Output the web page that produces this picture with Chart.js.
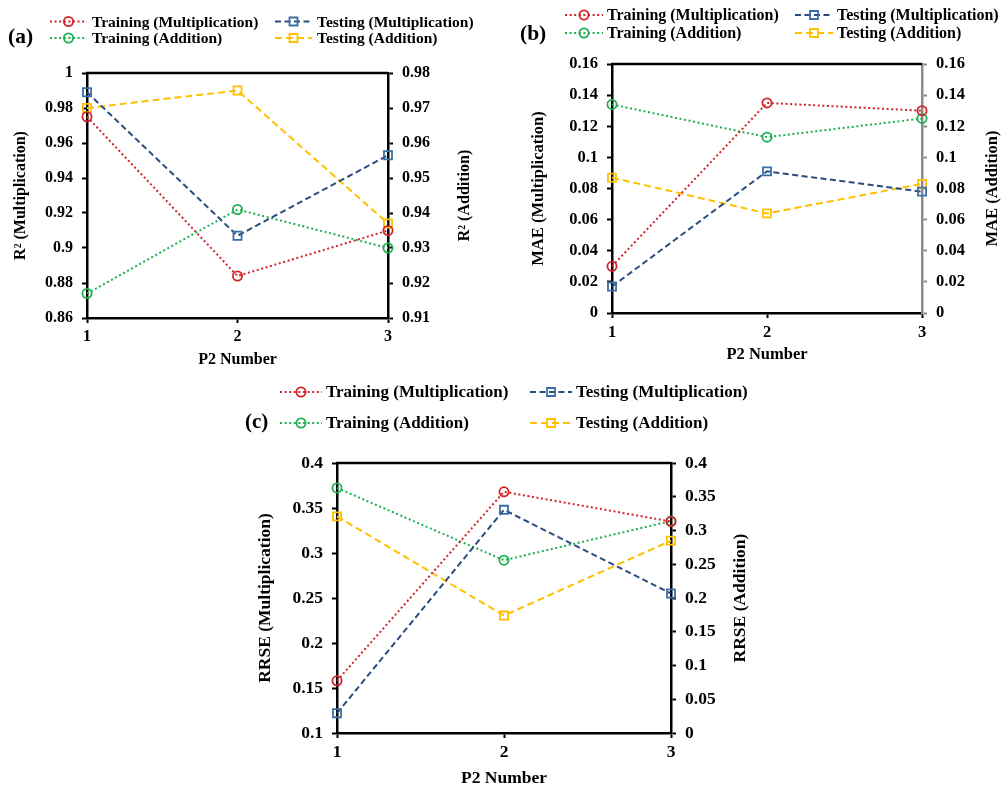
<!DOCTYPE html>
<html>
<head>
<meta charset="utf-8">
<script src="https://cdn.jsdelivr.net/npm/chart.js@4"></script>
<style>
  html, body { margin: 0; padding: 0; background: #fff; }
  body { width: 1003px; height: 789px; position: relative; overflow: hidden; }
  canvas { position: absolute; }
  #chartA { left: 0;     top: 0; }
  #chartB { left: 500px; top: 0; }
  #chartC { left: 0;     top: 375px; }
</style>
</head>
<body>
<canvas id="chartA" width="500" height="375"></canvas>
<canvas id="chartB" width="503" height="375"></canvas>
<canvas id="chartC" width="1003" height="414"></canvas>
<script>
const P2_NUMBERS = ["1", "2", "3"];

// (a) R²
const r2TrainMul = [0.975, 0.884, 0.910];
const r2TestMul  = [0.989, 0.907, 0.953];
const r2TrainAdd = [0.917, 0.941, 0.930];
const r2TestAdd  = [0.970, 0.975, 0.937];
const r2TicksMul = [0.86, 0.88, 0.90, 0.92, 0.94, 0.96, 0.98, 1];
const r2TicksAdd = [0.91, 0.92, 0.93, 0.94, 0.95, 0.96, 0.97, 0.98];

// (b) MAE
const maeTrainMul = [0.030, 0.135, 0.130];
const maeTestMul  = [0.017, 0.091, 0.078];
const maeTrainAdd = [0.134, 0.113, 0.125];
const maeTestAdd  = [0.087, 0.064, 0.083];
const maeTicks    = [0, 0.02, 0.04, 0.06, 0.08, 0.1, 0.12, 0.14, 0.16];

// (c) RRSE
const rrseTrainMul = [0.158, 0.368, 0.335];
const rrseTestMul  = [0.122, 0.348, 0.255];
const rrseTrainAdd = [0.363, 0.256, 0.314];
const rrseTestAdd  = [0.321, 0.174, 0.285];
const rrseTicksMul = [0.1, 0.15, 0.2, 0.25, 0.3, 0.35, 0.4];
const rrseTicksAdd = [0, 0.05, 0.1, 0.15, 0.2, 0.25, 0.3, 0.35, 0.4];

const FONT = "'Liberation Serif', 'Times New Roman', serif";

const SERIES = [
  { label: "Training (Multiplication)", line: "#d2232a", mark: "#d2232a", dash: [2, 2.6], style: "circle", axis: "y"  },
  { label: "Testing (Multiplication)",  line: "#2b4c7e", mark: "#3a6ea8", dash: [6, 3.5], style: "rect",   axis: "y"  },
  { label: "Training (Addition)",       line: "#1db050", mark: "#1db050", dash: [2, 2.6], style: "circle", axis: "y2" },
  { label: "Testing (Addition)",        line: "#ffc000", mark: "#ffc000", dash: [7, 4],   style: "rect",   axis: "y2" },
];

function buildDatasets(values) {
  return SERIES.map((s, i) => ({
    label: s.label,
    data: values[i],
    yAxisID: s.axis,
    borderColor: s.line,
    borderWidth: 2,
    borderDash: s.dash,
    tension: 0,
    fill: false,
    clip: false,
    pointStyle: s.style,
    pointRadius: s.style === "rect" ? 5.7 : 4.6,
    pointBorderWidth: 1.8,
    pointBorderColor: s.mark,
    pointBackgroundColor: "rgba(0,0,0,0)",
  }));
}

const fmt = v => String(+(+v).toFixed(3));

function valueAxis(o) {
  return {
    type: "linear",
    position: o.position,
    min: o.ticks[0],
    max: o.ticks[o.ticks.length - 1],
    afterBuildTicks: scale => { scale.ticks = o.ticks.map(v => ({ value: v })); },
    afterFit: scale => { scale.width = o.width; },
    border: { display: true, color: o.color || "#000", width: 2.5 },
    grid: { drawOnChartArea: false, drawTicks: true, tickLength: 5, tickWidth: 2,
            color: o.color || "#000", tickColor: o.color || "#000" },
    ticks: { color: "#000", padding: 9, callback: fmt,
             font: { family: FONT, size: o.size, weight: "bold" } },
    title: o.title
      ? { display: true, text: o.title, color: "#000", padding: { top: o.titlePad },
          font: { family: FONT, size: o.size, weight: "bold" } }
      : { display: false },
  };
}

function categoryAxis(o) {
  return {
    type: "category",
    labels: P2_NUMBERS,
    afterFit: scale => { scale.height = o.height; },
    border: { display: true, color: "#000", width: 2.5 },
    grid: { drawOnChartArea: false, drawTicks: true, tickLength: 5, tickWidth: 2,
            color: "#000", tickColor: "#000" },
    ticks: { color: "#000", padding: o.tickPad, maxRotation: 0,
             font: { family: FONT, size: o.size, weight: "bold" } },
    title: { display: true, text: "P2 Number", color: "#000", padding: { bottom: o.titlePad },
             font: { family: FONT, size: o.size, weight: "bold" } },
  };
}

// frame top line, right-axis title (reads bottom-to-top), 2x2 legend and panel letter
const panelDecor = {
  id: "panelDecor",
  beforeDatasetsDraw(chart) {
    const { ctx, chartArea: a } = chart;
    ctx.save();
    ctx.strokeStyle = "#000";
    ctx.lineWidth = 2.5;
    ctx.beginPath();
    ctx.moveTo(a.left - 1, a.top);
    ctx.lineTo(a.right, a.top);
    ctx.stroke();
    ctx.restore();
  },
  afterDraw(chart, args, o) {
    const { ctx, chartArea: a } = chart;
    ctx.save();
    ctx.fillStyle = "#000";

    // right title
    ctx.font = `bold ${o.titleSize}px ${FONT}`;
    ctx.translate(o.rightTitleX, (a.top + a.bottom) / 2);
    ctx.rotate(-Math.PI / 2);
    ctx.textAlign = "center";
    ctx.textBaseline = "middle";
    ctx.fillText(o.rightTitle, 0, 0);
    ctx.setTransform(1, 0, 0, 1, 0, 0);

    // panel letter
    ctx.font = `bold ${o.letterSize}px ${FONT}`;
    ctx.textAlign = "left";
    ctx.fillText(o.letter, o.letterX, o.letterY);

    // legend
    chart.data.datasets.forEach((ds, i) => {
      const x0 = o.cols[i % 2];
      const y = o.rows[Math.floor(i / 2)];
      const s = SERIES[i];
      ctx.strokeStyle = ds.borderColor;
      ctx.lineWidth = 2;
      ctx.setLineDash(ds.borderDash);
      ctx.beginPath();
      ctx.moveTo(x0, y);
      ctx.lineTo(x0 + o.markW, y);
      ctx.stroke();
      ctx.setLineDash([]);
      ctx.strokeStyle = s.mark;
      ctx.lineWidth = 1.8;
      const cx = x0 + o.markW / 2;
      ctx.beginPath();
      if (s.style === "circle") ctx.arc(cx, y, 4.6, 0, Math.PI * 2);
      else ctx.rect(cx - 4, y - 4, 8, 8);
      ctx.stroke();
      ctx.fillStyle = "#000";
      ctx.font = `bold ${o.legendSize}px ${FONT}`;
      ctx.fillText(ds.label, x0 + o.markW + o.textGap, y + 1);
    });
    ctx.restore();
  },
};

function makeChart(id, cfg) {
  return new Chart(document.getElementById(id), {
    type: "line",
    data: { labels: P2_NUMBERS, datasets: buildDatasets(cfg.values) },
    plugins: [panelDecor],
    options: {
      responsive: false,
      animation: false,
      devicePixelRatio: 1,
      layout: { padding: { top: cfg.top, left: 0, right: 0, bottom: 0 } },
      plugins: {
        legend: { display: false },
        tooltip: { enabled: false },
        panelDecor: cfg.decor,
      },
      scales: {
        x: categoryAxis(cfg.x),
        y: valueAxis(cfg.y),
        y2: valueAxis(cfg.y2),
      },
    },
  });
}

makeChart("chartA", {
  values: [r2TrainMul, r2TestMul, r2TrainAdd, r2TestAdd],
  top: 73,
  x:  { height: 57, size: 16, tickPad: 4, titlePad: 5.4 },
  y:  { position: "left",  ticks: r2TicksMul, width: 87,  size: 16, title: "R² (Multiplication)", titlePad: 11.4 },
  y2: { position: "right", ticks: r2TicksAdd, width: 112, size: 16 },
  decor: { rightTitle: "R² (Addition)", rightTitleX: 465, titleSize: 16,
           letter: "(a)", letterX: 8, letterY: 37, letterSize: 21.5,
           cols: [50, 275], rows: [21.5, 38], markW: 37, textGap: 5, legendSize: 15.5 },
});

makeChart("chartB", {
  values: [maeTrainMul, maeTestMul, maeTrainAdd, maeTestAdd],
  top: 64,
  x:  { height: 62, size: 16.5, tickPad: 5, titlePad: 10 },
  y:  { position: "left",  ticks: maeTicks, width: 112, size: 16.5, title: "MAE (Multiplication)", titlePad: 29 },
  y2: { position: "right", ticks: maeTicks, width: 81,  size: 16.5, color: "#8c8c8c" },
  decor: { rightTitle: "MAE (Addition)", rightTitleX: 493, titleSize: 16.5,
           letter: "(b)", letterX: 20, letterY: 34, letterSize: 21.5,
           cols: [65, 295], rows: [15, 33], markW: 38, textGap: 4, legendSize: 16 },
});

makeChart("chartC", {
  values: [rrseTrainMul, rrseTestMul, rrseTrainAdd, rrseTestAdd],
  top: 88,
  x:  { height: 56, size: 17.5, tickPad: 4, titlePad: 0 },
  y:  { position: "left",  ticks: rrseTicksMul, width: 337, size: 17.5, title: "RRSE (Multiplication)", titlePad: 254.5 },
  y2: { position: "right", ticks: rrseTicksAdd, width: 332, size: 17.5 },
  decor: { rightTitle: "RRSE (Addition)", rightTitleX: 740, titleSize: 17.5,
           letter: "(c)", letterX: 245, letterY: 48, letterSize: 21,
           cols: [280, 530], rows: [17, 48], markW: 42, textGap: 4, legendSize: 17 },
});
</script>
</body>
</html>
